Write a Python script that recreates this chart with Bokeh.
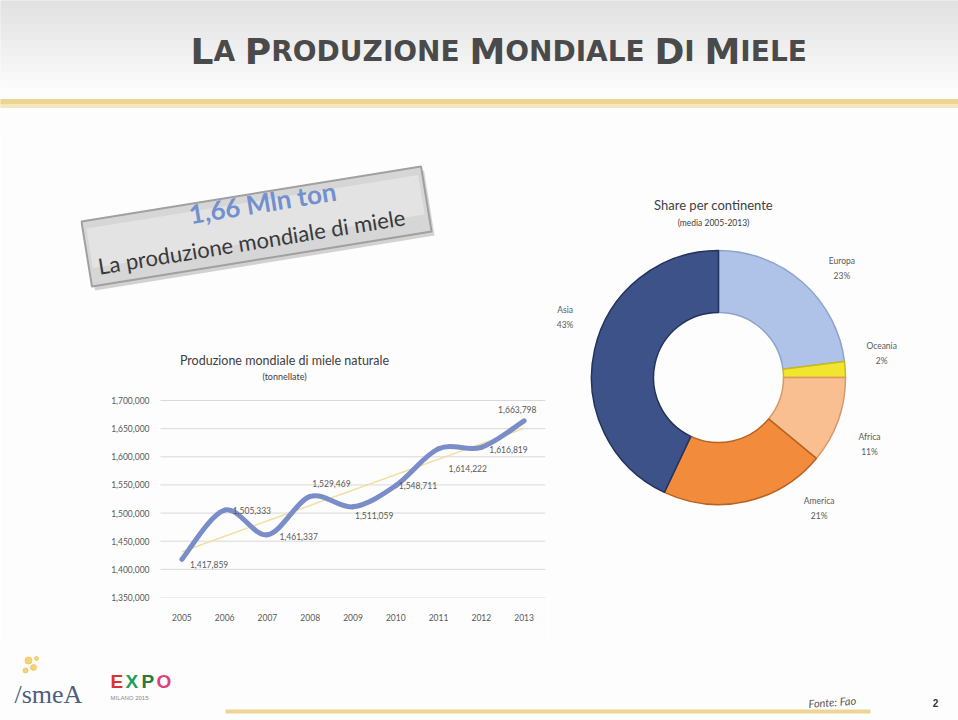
import numpy as np
from bokeh.plotting import figure
from bokeh.layouts import column, row
from bokeh.models import Range1d, FixedTicker, NumeralTickFormatter, ColumnDataSource
from bokeh.core.properties import value
from bokeh.embed import file_html
from bokeh.resources import INLINE

# ---------------- data ----------------
years = [2005, 2006, 2007, 2008, 2009, 2010, 2011, 2012, 2013]
production = [1417859, 1505333, 1461337, 1529469, 1511059, 1548711, 1614222, 1616819, 1663798]
y_ticks = [1350000, 1400000, 1450000, 1500000, 1550000, 1600000, 1650000, 1700000]

continents = ["Europa", "Oceania", "Africa", "America", "Asia"]
shares = [23, 2, 11, 21, 43]

slide_title = "La Produzione Mondiale Di Miele"
headline_value = "1,66 Mln ton"
headline_text = "La produzione mondiale di miele"
line_title = "Produzione mondiale di miele naturale"
line_subtitle = "(tonnellate)"
donut_title = "Share per continente"
donut_subtitle = "(media 2005-2013)"
source_text = "Fonte: Fao"
page_number = "2"

# ---------------- styles ----------------
BG = "#FDFDFD"
FONT = "Lato"
GREY = "#595959"
wedge_colors = ["#AFC3E9", "#F2E52E", "#F9BF90", "#F28B3C", "#3D5288"]
wedge_edges = ["#8EA3CC", "#C9B91A", "#D69A6A", "#B8631F", "#22335E"]
label_dx = [8, 8, 12, 2, 2, 3, 10, 8, -26]
label_dy = [5, 0, 2, -13, 9, 0, 20, 2, -11]
wedge_label_shift = [7, -5, 4, -25, 9]   # degrees, label placement nudges


def Y(v):
    """slide pixel row -> decoration-figure y"""
    return 720 - v


def deco_fig(w, h, x0, x1, y0, y1, **kw):
    p = figure(width=w, height=h, x_range=Range1d(x0, x1), y_range=Range1d(y0, y1),
               output_backend="svg", toolbar_location=None,
               x_axis_location=None, y_axis_location=None, min_border=0, **kw)
    p.grid.visible = False
    p.outline_line_color = None
    p.background_fill_color = BG
    p.border_fill_color = BG
    return p


# ---------------- header ----------------
hp = deco_fig(958, 128, 0, 958, Y(128), Y(0))
n_b = 12
for i in range(n_b):
    t = i / (n_b - 1)
    g = int(0xE2 + (0xFD - 0xE2) * t)
    hp.quad(left=0, right=958, top=Y(i * 8), bottom=Y((i + 1) * 8),
            color="#%02x%02x%02x" % (g, g, g))
hp.quad(left=0, right=958, top=Y(99), bottom=Y(104), color="#ECD593")
hp.quad(left=0, right=958, top=Y(104), bottom=Y(107), color="#F4E6BF")

# small caps title (DejaVu Sans Bold advance widths, per 1000 em)
dv_bold = {"L": 637, "A": 774, "P": 733, "R": 770, "O": 850, "D": 830, "U": 812,
           "Z": 725, "I": 372, "N": 837, "E": 683, "M": 995, " ": 348}
big, small = 36, 28
pieces = []
for wi, word in enumerate(slide_title.split(" ")):
    if wi > 0:
        pieces.append((" ", small))
    pieces.append((word[0].upper(), big))
    if len(word) > 1:
        pieces.append((word[1:].upper(), small))
x = 190.0
px, pt, ps = [], [], []
for txt, sz in pieces:
    wdt = sum(dv_bold.get(c, 700) for c in txt) * sz / 1000.0
    if txt.strip():
        px.append(x)
        pt.append(txt)
        ps.append("%dpx" % sz)
    x += wdt
hp.text(x=px, y=[Y(51)] * len(px), text=pt, text_font_size=ps,
        text_font=value("DejaVu Sans"), text_font_style="bold",
        text_color="#4A4A4A", text_align="left", text_baseline="alphabetic")

# ---------------- left panel: callout + line chart ----------------
FL, FR, FT, FB = 80, 545, 128, 597          # frame edges (slide px)
ROW_FIRST, ROW_LAST = 597, 400              # rows of first / last y tick
x_step = (FR - 160) / float(len(years))
x_lo = years[0] - 0.5 - (160 - FL) / x_step
x_hi = years[-1] + 0.5
ppu = (ROW_FIRST - ROW_LAST) / float(y_ticks[-1] - y_ticks[0])
y_lo = y_ticks[0]
y_hi = y_lo + (FB - FT) / ppu


def dx(p):
    return x_lo + (p - FL) / x_step


def dy(p):
    return y_lo + (FB - p) / ppu


lp = figure(width=548, height=512, x_range=Range1d(x_lo, x_hi), y_range=Range1d(y_lo, y_hi),
            output_backend="svg", toolbar_location=None,
            min_border_left=FL, min_border_right=548 - FR, min_border_top=0,
            min_border_bottom=640 - 128 - (FB - FT))
lp.background_fill_color = BG
lp.border_fill_color = BG
lp.outline_line_color = None
lp.grid.visible = False
lp.xaxis.ticker = FixedTicker(ticks=years)
lp.yaxis.ticker = FixedTicker(ticks=y_ticks)
lp.yaxis.formatter = NumeralTickFormatter(format="0,0")
for ax in (lp.xaxis, lp.yaxis):
    ax.major_tick_line_color = None
    ax.minor_tick_line_color = None
    ax.axis_line_color = None
    ax.major_label_text_font_size = "8.5px"
    ax.major_label_text_color = GREY
    ax.major_label_text_font = FONT
lp.yaxis.major_label_standoff = -75
lp.xaxis.major_label_standoff = 10

# gridlines at the tick values, spanning the category band
lp.segment(x0=years[0] - 0.5, x1=years[-1] + 0.5, y0=y_ticks, y1=y_ticks,
           line_color="#D9D9D9", line_width=1)

# callout box
ang = 9.2
lp.rect(x=dx(259), y=dy(230), width=344, height=66, width_units="screen", height_units="screen",
        angle=ang, angle_units="deg", fill_color="#9E9E9E", line_color=None, fill_alpha=0.45)
lp.rect(x=dx(256), y=dy(226), width=344, height=66, width_units="screen", height_units="screen",
        angle=ang, angle_units="deg", fill_color="#D6D6D6", line_color="#A0A0A0", line_width=2)
lp.rect(x=dx(255), y=dy(221), width=336, height=40, width_units="screen", height_units="screen",
        angle=ang, angle_units="deg", fill_color="#E3E3E3", line_color=None)
lp.text(x=[dx(262)], y=[dy(202)], text=[headline_value], angle=ang, angle_units="deg",
        text_align="center", text_baseline="middle", text_font_size="26px",
        text_font=value(FONT), text_font_style="bold", text_color="#7290CD")
lp.text(x=[dx(251)], y=[dy(241)], text=[headline_text], angle=ang, angle_units="deg",
        text_align="center", text_baseline="middle", text_font_size="22px",
        text_font=value(FONT), text_color="#3A3A3A")
lp.text(x=[dx(284)], y=[dy(360)], text=[line_title], text_align="center", text_baseline="middle",
        text_font_size="12.5px", text_font=value(FONT), text_color="#404040")
lp.text(x=[dx(284)], y=[dy(376)], text=[line_subtitle], text_align="center",
        text_baseline="middle", text_font_size="9px", text_font=value(FONT), text_color="#404040")

# linear trend line computed from the data
coef = np.polyfit(years, production, 1)
lp.line(x=[years[0], years[-1]], y=[np.polyval(coef, years[0]), np.polyval(coef, years[-1])],
        line_color="#F0DFA0", line_width=1.5)

# smoothed line as bezier segments (Catmull-Rom)
xs = np.array(years, dtype=float)
ys = np.array(production, dtype=float)
xe = np.concatenate([[xs[0]], xs, [xs[-1]]])
ye = np.concatenate([[ys[0]], ys, [ys[-1]]])
n = len(xs)
bz = dict(x0=xs[:-1], y0=ys[:-1], x1=xs[1:], y1=ys[1:],
          cx0=xs[:-1] + (xe[2:n + 1] - xe[0:n - 1]) / 6.0,
          cy0=ys[:-1] + (ye[2:n + 1] - ye[0:n - 1]) / 6.0,
          cx1=xs[1:] - (xe[3:n + 2] - xe[1:n]) / 6.0,
          cy1=ys[1:] - (ye[3:n + 2] - ye[1:n]) / 6.0)
lp.bezier(source=ColumnDataSource(bz), x0="x0", y0="y0", x1="x1", y1="y1",
          cx0="cx0", cy0="cy0", cx1="cx1", cy1="cy1",
          line_color="#7A8DC9", line_width=5, line_cap="round")

lab_src = ColumnDataSource(dict(x=years, y=production, t=["{:,}".format(v) for v in production],
                                dx=label_dx, dy=label_dy))
lp.text(x="x", y="y", text="t", x_offset="dx", y_offset="dy", source=lab_src,
        text_font_size="8.5px", text_font=value(FONT), text_color=GREY,
        text_align="left", text_baseline="middle")

# ---------------- donut ----------------
dp = deco_fig(410, 512, 548, 958, Y(FB), Y(FT))
dp.min_border_bottom = 640 - FB
cx, cy = 718, Y(377)
cum = np.concatenate([[0], np.cumsum(shares)])
start = np.pi / 2 - 2 * np.pi * cum[:-1] / 100.0
end = np.pi / 2 - 2 * np.pi * cum[1:] / 100.0
dp.annular_wedge(x=cx, y=cy, inner_radius=65, outer_radius=127,
                 start_angle=list(start), end_angle=list(end), direction="clock",
                 fill_color=wedge_colors, line_color=wedge_edges, line_width=1.5)
mid = (start + end) / 2 - np.radians(wedge_label_shift)
lr = 165
lx = cx + lr * np.cos(mid)
ly = cy + lr * np.sin(mid)
dp.text(x=list(lx), y=list(ly + 7), text=continents, text_align="center", text_baseline="middle",
        text_font_size="8.5px", text_font=value(FONT), text_color=GREY)
dp.text(x=list(lx), y=list(ly - 8), text=["%d%%" % s for s in shares], text_align="center",
        text_baseline="middle", text_font_size="8.5px", text_font=value(FONT), text_color=GREY)
dp.text(x=[713], y=[Y(204)], text=[donut_title], text_align="center", text_baseline="middle",
        text_font_size="13px", text_font=value(FONT), text_color="#404040")
dp.text(x=[713], y=[Y(222)], text=[donut_subtitle], text_align="center", text_baseline="middle",
        text_font_size="8.5px", text_font=value(FONT), text_color="#404040")

# ---------------- footer ----------------
fp = deco_fig(958, 80, 0, 958, Y(720), Y(640))
fp.line(x=[225, 870], y=[Y(711), Y(711)], line_color="#EBCB7A", line_width=4, line_alpha=0.8)
fp.scatter(x=[28, 33, 25, 36], y=[Y(660), Y(667), Y(670), Y(658)], size=[7, 6, 5, 4],
           marker="circle", color="#F0C040", alpha=0.7)
fp.text(x=[14], y=[Y(694)], text=["/smeA"], text_font_size="26px",
        text_font=value("Liberation Serif"), text_color="#4E5D80",
        text_align="left", text_baseline="middle")
expo_letters = ["E", "X", "P", "O"]
expo_colors = ["#D9342B", "#1E9E5A", "#2A7A3B", "#E0407A"]
fp.text(x=[110, 125, 141, 156], y=[Y(681)] * 4, text=expo_letters, text_color=expo_colors,
        text_font_size="19px", text_font=value("Liberation Sans"), text_font_style="bold",
        text_align="left", text_baseline="middle")
fp.text(x=[110], y=[Y(697)], text=["MILANO 2015"], text_font_size="6px",
        text_font=value("Liberation Sans"), text_color="#8A8A8A", text_align="left",
        text_baseline="middle")
fp.text(x=[808], y=[Y(703)], text=[source_text], angle=4, angle_units="deg",
        text_font_size="11px", text_font=value(FONT), text_font_style="italic",
        text_color=GREY, text_align="left", text_baseline="middle")
fp.text(x=[935], y=[Y(702)], text=[page_number], text_font_size="10px",
        text_font=value("Liberation Sans"), text_font_style="bold",
        text_color="#333333", text_align="center", text_baseline="middle")

layout = column(hp, row(lp, dp), fp)
open("out.html", "w").write(file_html(layout, INLINE))
